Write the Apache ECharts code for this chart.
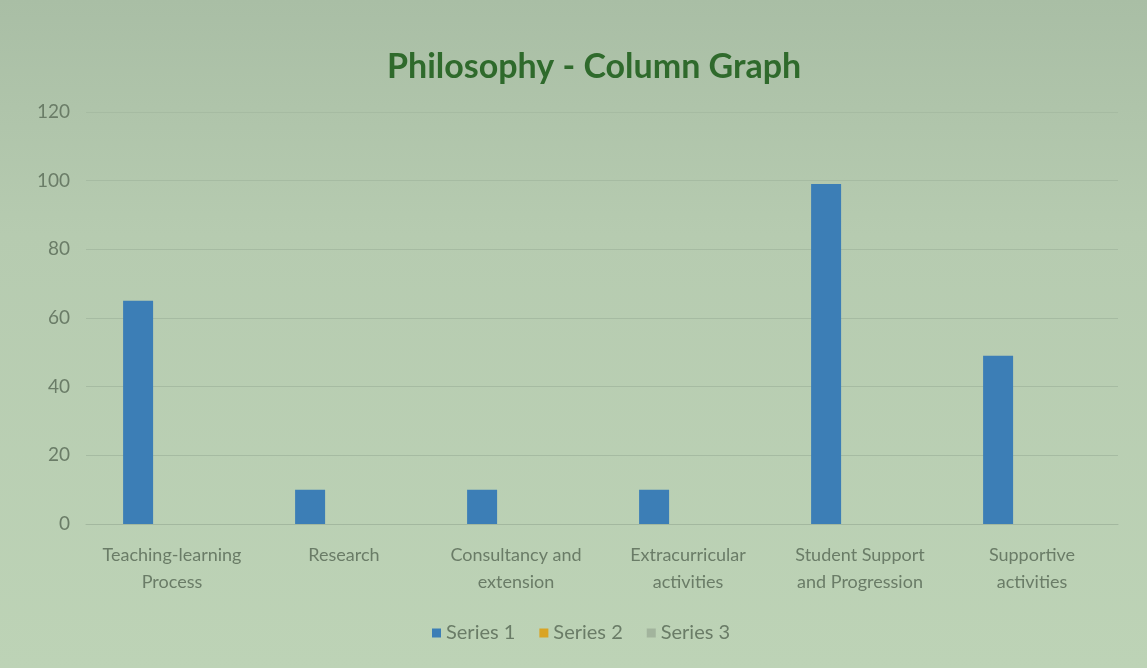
<!DOCTYPE html>
<html>
<head>
<meta charset="utf-8">
<title>Philosophy - Column Graph</title>
<script src="https://cdn.jsdelivr.net/npm/echarts@6/dist/echarts.min.js"></script>
<style>
    html, body { margin: 0; padding: 0; }
    body { background: linear-gradient(to bottom, #a9bea5 0%, #b6cbb0 35%, #bdd3b6 100%); }
    #chart { width: 1147px; height: 668px; }
</style>
</head>
<body>
<div id="chart"></div>
<script>
const categories = [
    'Teaching-learning\nProcess',
    'Research',
    'Consultancy and\nextension',
    'Extracurricular\nactivities',
    'Student Support\nand Progression',
    'Supportive\nactivities'
];
const series1 = [65, 10, 10, 10, 99, 49];
const series2 = [null, null, null, null, null, null];
const series3 = [null, null, null, null, null, null];
const yTicks = [0, 20, 40, 60, 80, 100, 120];

const font = 'Lato, "Open Sans", sans-serif';

let myChart = echarts.init(document.getElementById('chart'));
let option = {
    backgroundColor: 'transparent',
    title: {
        text: 'Philosophy - Column Graph',
        left: 382,
        top: 45,
        textStyle: {
            color: '#2f6a2c',
            fontSize: 34,
            fontWeight: 'bold',
            fontFamily: font
        }
    },
    legend: {
        bottom: 20,
        left: 427,
        itemWidth: 9,
        itemHeight: 9,
        itemGap: 24,
        icon: 'rect',
        textStyle: { color: '#6a7c67', fontSize: 20, fontFamily: font },
        data: ['Series 1', 'Series 2', 'Series 3']
    },
    grid: {
        left: 86,
        right: 29,
        top: 112,
        bottom: 144
    },
    xAxis: {
        type: 'category',
        data: categories,
        axisTick: { show: false },
        axisLine: { show: true, lineStyle: { color: '#a3b89f' } },
        axisLabel: {
            interval: 0,
            color: '#6a7c67',
            fontSize: 18,
            fontFamily: font,
            lineHeight: 27,
            margin: 18
        }
    },
    yAxis: {
        type: 'value',
        min: yTicks[0],
        max: yTicks[yTicks.length - 1],
        interval: 20,
        axisLine: { show: false },
        axisTick: { show: false },
        splitLine: { lineStyle: { color: '#a6bba2', width: 1 } },
        axisLabel: {
            color: '#6a7c67',
            fontSize: 19,
            fontFamily: font,
            margin: 16
        }
    },
    series: [
        { name: 'Series 1', type: 'bar', data: series1, barWidth: 30, barGap: '13%', itemStyle: { color: '#3c7eb6' } },
        { name: 'Series 2', type: 'bar', data: series2, barWidth: 30, itemStyle: { color: '#d9a424' } },
        { name: 'Series 3', type: 'bar', data: series3, barWidth: 30, itemStyle: { color: '#a2b49d' } }
    ]
};
myChart.setOption(option, true);
</script>
</body>
</html>
